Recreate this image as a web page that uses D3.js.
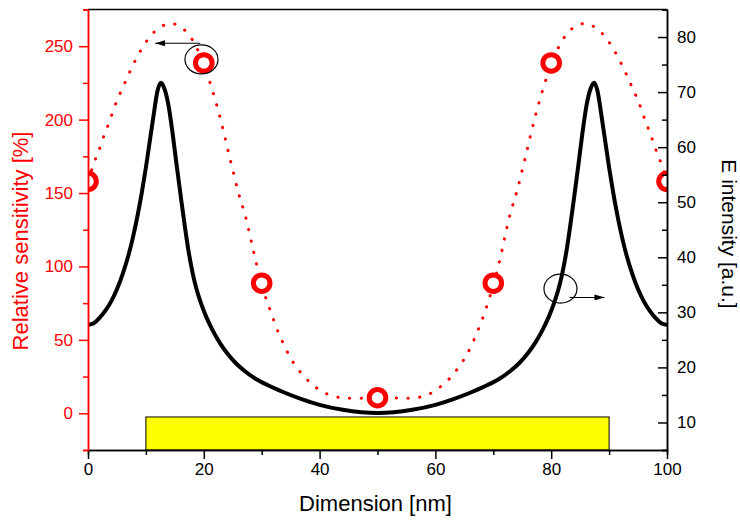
<!DOCTYPE html>
<html>
<head>
<meta charset="utf-8">
<script src="https://cdn.jsdelivr.net/npm/d3@7"></script>
<style>
  body { margin: 0; background: #fff; }
  svg { font-family: "Liberation Sans", Arial, sans-serif; }
</style>
</head>
<body>
<div id="vis"></div>
<script>
// measured points (x in nm)
const sensX = [0, 20, 30, 50, 70, 80, 100];
const sensY = [158, 238.6, 88.6, 10.6, 88.6, 238.6, 158];

const sensCurveX = [0, 0.7, 1.4, 2.2, 2.9, 3.7, 4.4, 5.2, 6.1, 7.0, 8.0, 9.1, 10.4, 12.3, 14.3, 16.4, 18.0, 19.9, 21.3, 22.5, 24.5, 26.0, 27.2, 28.6, 29.9, 31.5, 33.0, 34.0, 35.0, 36.4, 38.2, 40.2, 42.3, 44.3, 46.3, 50,
  52.4, 54.5, 56.5, 58.5, 60.5, 62.5, 64.1, 65.4, 66.4, 67.3, 68.1, 68.8, 70.1, 71.1, 72.8, 74.0, 75.5, 77.5, 78.7, 80.1, 82.0, 83.6, 85.7, 87.7, 89.6, 90.9, 92.0, 93.0, 93.9, 94.8, 95.6, 96.3, 97.1, 97.8, 98.6, 99.3, 100];
const sensCurveY = [158, 166.4, 174.5, 182.3, 190.9, 198.4, 206.8, 214.8, 222.7, 230.7, 239, 247, 255, 262.5, 265.4, 262, 254.5, 238.6, 222.3, 206.1, 173.9, 150, 134, 110.2, 88.6, 69.8, 53.9, 45.4, 37.5, 29.5, 21.5, 15.4, 11.8, 10.4, 10.2, 10.6,
  10.6, 10.2, 10.6, 12.3, 17, 23.9, 31.8, 39.8, 47.7, 56.1, 64, 72, 88.6, 104, 134, 150, 173.9, 206.1, 222.3, 238.6, 254.5, 262, 265.4, 262.5, 255, 247, 239, 230.7, 222.7, 214.8, 206.8, 198.4, 190.9, 182.3, 174.5, 166.4, 158];

const eX = [0, 1, 2, 3, 4, 5, 6, 7, 7.8, 8.6, 9.3, 10.0, 10.7, 11.4, 12.0, 12.6, 13.2, 13.9, 14.6, 15.3, 16.0, 16.7, 17.4, 18.1, 18.8, 19.6, 20.5, 21.6, 22.8, 24.0, 25.5, 27, 29, 31, 34, 37, 40, 44, 50,
  56, 60, 63, 66, 69, 71, 73, 74.5, 76.0, 77.2, 78.4, 79.5, 80.4, 81.2, 81.9, 82.6, 83.3, 84.0, 84.7, 85.4, 86.1, 86.8, 87.4, 88.0, 88.6, 89.3, 90.0, 90.7, 91.4, 92.2, 93, 94, 95, 96, 97, 98, 99, 100];
const eY = [27.7, 28.0, 29.0, 30.3, 32.0, 34.2, 37.0, 40.4, 43.8, 47.8, 51.8, 56.3, 61.3, 66.3, 70.2, 71.7, 70.6, 67.6, 62.6, 56.8, 51.2, 45.8, 40.9, 37.0, 34.0, 31.4, 29.0, 26.6, 24.4, 22.6, 20.8, 19.4, 17.9, 16.8, 15.4, 14.2, 13.2, 12.3, 11.7,
  12.3, 13.2, 14.2, 15.4, 16.8, 17.9, 19.4, 20.8, 22.6, 24.4, 26.6, 29.0, 31.4, 34.0, 37.0, 40.9, 45.8, 51.2, 56.8, 62.6, 67.6, 70.6, 71.7, 70.2, 66.3, 61.3, 56.3, 51.8, 47.8, 43.8, 40.4, 37.0, 34.2, 32.0, 30.3, 29.0, 28.0, 27.7];

const xTicks = [0, 20, 40, 60, 80, 100];
const xMinor = [10, 30, 50, 70, 90];
const leftTicks = [0, 50, 100, 150, 200, 250];
const leftMinor = [-25, 25, 75, 125, 175, 225, 275];
const rightTicks = [10, 20, 30, 40, 50, 60, 70, 80];
const rightMinor = [5, 15, 25, 35, 45, 55, 65, 75, 85];

// substrate block: x range and top (E units)
const substrateX = [10, 90];
const substrateTop = 11;

// annotation ellipses + arrows (data units of the axis they point to)
const noteLeft = {cx: 19.6, cy: 241, x1: 19.4, x2: 11.6, y: 252};
const noteRight = {cx: 81.6, cy: 34.3, x1: 83.2, x2: 89.2, y: 32.7};

const FRAME_WIDTH = 740;
const FRAME_HEIGHT = 521;
const MARGINS = {left: 88, right: 73, top: 9.5, bottom: 71};
const VIS_WIDTH = FRAME_WIDTH - MARGINS.left - MARGINS.right;
const VIS_HEIGHT = FRAME_HEIGHT - MARGINS.top - MARGINS.bottom;

const svg = d3.select('#vis').append('svg')
  .attr('width', FRAME_WIDTH)
  .attr('height', FRAME_HEIGHT);

const X_SCALE = d3.scaleLinear().domain([0, 100]).range([0, VIS_WIDTH]);
const YL_SCALE = d3.scaleLinear().domain([-25, 275]).range([VIS_HEIGHT, 0]);
const YR_SCALE = d3.scaleLinear().domain([5, 85]).range([VIS_HEIGHT, 0]);

svg.append('clipPath').attr('id', 'clip')
  .append('rect').attr('width', VIS_WIDTH).attr('height', VIS_HEIGHT);

const g = svg.append('g')
  .attr('transform', 'translate(' + MARGINS.left + ',' + MARGINS.top + ')');

const plot = g.append('g').attr('clip-path', 'url(#clip)');

// substrate
plot.append('rect')
  .attr('x', X_SCALE(substrateX[0]))
  .attr('y', YR_SCALE(substrateTop))
  .attr('width', X_SCALE(substrateX[1]) - X_SCALE(substrateX[0]))
  .attr('height', VIS_HEIGHT - YR_SCALE(substrateTop))
  .attr('fill', '#ffff00')
  .attr('stroke', '#000')
  .attr('stroke-width', 1);

// E intensity curve
const eLine = d3.line()
  .x((d, i) => X_SCALE(eX[i]))
  .y((d) => YR_SCALE(d))
  .curve(d3.curveMonotoneX);

plot.append('path')
  .datum(eY)
  .attr('d', eLine)
  .attr('fill', 'none')
  .attr('stroke', '#000')
  .attr('stroke-width', 4)
  .attr('stroke-linejoin', 'round');

// sensitivity dotted curve
const sLine = d3.line()
  .x((d, i) => X_SCALE(sensCurveX[i]))
  .y((d) => YL_SCALE(d))
  .curve(d3.curveMonotoneX);

plot.append('path')
  .datum(sensCurveY)
  .attr('d', sLine)
  .attr('fill', 'none')
  .attr('stroke', '#ff0000')
  .attr('stroke-width', 3)
  .attr('stroke-linecap', 'round')
  .attr('stroke-dasharray', '0.3,11.4');

plot.selectAll('.pt')
  .data(sensY)
  .enter()
  .append('circle')
    .attr('class', 'pt')
    .attr('cx', (d, i) => X_SCALE(sensX[i]))
    .attr('cy', (d) => YL_SCALE(d))
    .attr('r', 8.3)
    .attr('fill', '#fff')
    .attr('stroke', '#ff0000')
    .attr('stroke-width', 5);

// annotations
svg.append('defs').append('marker')
  .attr('id', 'arr')
  .attr('viewBox', '0 0 10 6')
  .attr('refX', 10).attr('refY', 3)
  .attr('markerWidth', 10).attr('markerHeight', 6)
  .attr('markerUnits', 'userSpaceOnUse')
  .attr('orient', 'auto')
  .append('path').attr('d', 'M0,0L10,3L0,6Z').attr('fill', '#000');

g.append('ellipse')
  .attr('cx', X_SCALE(noteLeft.cx)).attr('cy', YL_SCALE(noteLeft.cy))
  .attr('rx', 16.5).attr('ry', 14.5)
  .attr('fill', 'none').attr('stroke', '#000').attr('stroke-width', 1.2);
g.append('line')
  .attr('x1', X_SCALE(noteLeft.x1)).attr('x2', X_SCALE(noteLeft.x2))
  .attr('y1', YL_SCALE(noteLeft.y)).attr('y2', YL_SCALE(noteLeft.y))
  .attr('stroke', '#000').attr('stroke-width', 1.2)
  .attr('marker-end', 'url(#arr)');

g.append('ellipse')
  .attr('cx', X_SCALE(noteRight.cx)).attr('cy', YR_SCALE(noteRight.cy))
  .attr('rx', 16.5).attr('ry', 14.5)
  .attr('fill', 'none').attr('stroke', '#000').attr('stroke-width', 1.2);
g.append('line')
  .attr('x1', X_SCALE(noteRight.x1)).attr('x2', X_SCALE(noteRight.x2))
  .attr('y1', YR_SCALE(noteRight.y)).attr('y2', YR_SCALE(noteRight.y))
  .attr('stroke', '#000').attr('stroke-width', 1.2)
  .attr('marker-end', 'url(#arr)');

// top frame line
g.append('line')
  .attr('x1', 0).attr('x2', VIS_WIDTH)
  .attr('y1', 0).attr('y2', 0)
  .attr('stroke', '#000').attr('stroke-width', 1.5);

function styleAxis(sel, color, size) {
  sel.selectAll('path, line').attr('stroke', color).attr('stroke-width', 1.5);
  sel.selectAll('text').attr('fill', color).attr('font-size', size)
    .attr('font-family', '"Liberation Sans", Arial, sans-serif');
}

// bottom axis
const xAxis = g.append('g').attr('transform', 'translate(0,' + VIS_HEIGHT + ')');
xAxis.append('g')
  .call(d3.axisBottom(X_SCALE).tickValues(xMinor).tickSize(5).tickFormat(''))
  .call(styleAxis, '#000', 17);
xAxis.append('g')
  .call(d3.axisBottom(X_SCALE).tickValues(xTicks).tickSize(9).tickSizeOuter(0).tickPadding(4))
  .call(styleAxis, '#000', 17);

// right axis (ticks pointing inward)
const yrAxis = g.append('g').attr('transform', 'translate(' + VIS_WIDTH + ',0)');
yrAxis.append('g')
  .call(d3.axisRight(YR_SCALE).tickValues(rightMinor).tickSize(-5).tickFormat(''))
  .call(styleAxis, '#000', 17);
yrAxis.append('g')
  .call(d3.axisRight(YR_SCALE).tickValues(rightTicks).tickSize(-9).tickSizeOuter(0).tickPadding(10))
  .call(styleAxis, '#000', 17);

// left axis (red)
const ylAxis = g.append('g');
ylAxis.append('g')
  .call(d3.axisLeft(YL_SCALE).tickValues(leftMinor).tickSize(5).tickFormat(''))
  .call(styleAxis, '#ff0000', 17);
ylAxis.append('g')
  .call(d3.axisLeft(YL_SCALE).tickValues(leftTicks).tickSize(9).tickSizeOuter(0).tickPadding(6))
  .call(styleAxis, '#ff0000', 17);

// titles
svg.append('text')
  .attr('x', MARGINS.left + VIS_WIDTH / 2 - 2)
  .attr('y', 505)
  .attr('text-anchor', 'middle')
  .attr('dominant-baseline', 'middle')
  .attr('font-size', 22)
  .text('Dimension [nm]');

svg.append('text')
  .attr('transform', 'translate(22,241) rotate(-90)')
  .attr('text-anchor', 'middle')
  .attr('dominant-baseline', 'middle')
  .attr('font-size', 22)
  .attr('fill', '#ff0000')
  .text('Relative sensitivity [%]');

svg.append('text')
  .attr('transform', 'translate(728,234) rotate(90)')
  .attr('text-anchor', 'middle')
  .attr('dominant-baseline', 'middle')
  .attr('font-size', 21)
  .text('E intensity [a.u.]');
</script>
</body>
</html>
